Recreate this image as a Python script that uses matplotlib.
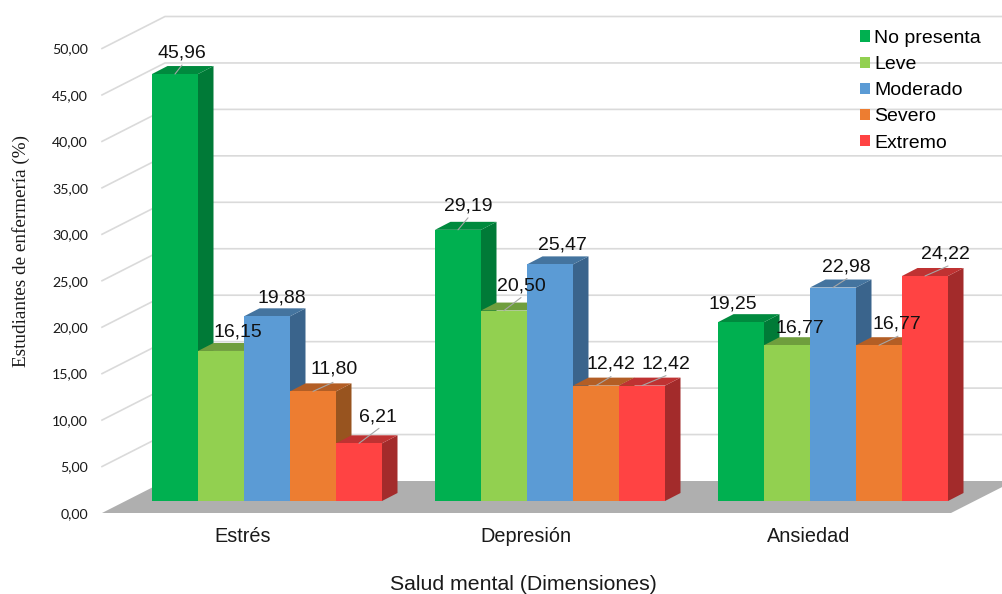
import matplotlib
matplotlib.use("Agg")
import matplotlib.pyplot as plt
from matplotlib.patches import Patch

# Data
categories = ["Estrés", "Depresión", "Ansiedad"]
series_names = ["No presenta", "Leve", "Moderado", "Severo", "Extremo"]
no_presenta = [45.96, 29.19, 19.25]
leve = [16.15, 20.50, 16.77]
moderado = [19.88, 25.47, 22.98]
severo = [11.80, 12.42, 16.77]
extremo = [6.21, 12.42, 24.22]
y_ticks = [0, 5, 10, 15, 20, 25, 30, 35, 40, 45, 50]

series = [no_presenta, leve, moderado, severo, extremo]

# front, side and top colours of each series
front_colors = ["#00B050", "#92D050", "#5B9BD5", "#ED7D31", "#FF4343"]
side_colors = ["#007A37", "#668F38", "#3A648C", "#98541F", "#A32B2B"]
top_colors = ["#008A3E", "#6F9E3D", "#44749F", "#B35E25", "#BF3232"]

# label and leader offsets in pixels from the middle of each bar's front top edge
label_offsets = [
    [(7, 22), (10, 25), (-8, 19)],
    [(17, 20), (17, 26), (13, 18)],
    [(15, 19), (12, 20), (13, 22)],
    [(21, 23), (15, 23), (18, 22)],
    [(19, 27), (24, 23), (20, 23)],
]
leader_tips = [
    [(7, 9), (10, 12), None],
    [None, (17, 13), None],
    [None, None, (14, 9)],
    [(20, 9), (15, 9), (19, 9)],
    [(20, 15), (24, 10), (23, 10)],
]

W, H = 1002, 594
PX_X = 283.0  # pixels between groups
PX_Y = 9.29   # pixels per percent
X0 = 267.0    # pixel of first group centre
Y0 = 501.0    # pixel of bar base

bar_w = 46 / PX_X
bar_dx = 15.5 / PX_X
bar_dy = 8 / PX_Y
wall_dx = 63 / PX_X
wall_dy = 32 / PX_Y
floor_y = -12 / PX_Y
floor_left = (102 - X0) / PX_X
floor_right = (951 - X0) / PX_X

fig = plt.figure(figsize=(W / 100, H / 100), dpi=100)
ax = fig.add_axes([0, 0, 1, 1])
ax.set_xlim(-X0 / PX_X, (W - X0) / PX_X)
ax.set_ylim((Y0 - H) / PX_Y, Y0 / PX_Y)
ax.axis("off")

# floor and walls
ax.fill([floor_left, floor_right, floor_right + wall_dx, floor_left + wall_dx],
        [floor_y, floor_y, floor_y + wall_dy, floor_y + wall_dy],
        color="#AFAFAF", lw=0, zorder=1)
for t in y_ticks[1:]:
    y = t * 1.0 + floor_y
    ax.plot([floor_left, floor_left + wall_dx, 5], [y, y + wall_dy, y + wall_dy],
            color="#DADADA", lw=1.2, zorder=0.5)
for t in y_ticks:
    ax.text(floor_left - 14 / PX_X, t + floor_y - 1 / PX_Y, f"{t},00",
            ha="right", va="center", fontsize=10.2, color="#1a1a1a", family="Lato")

# bars, left to right so each one covers the side of the previous bar
z = 2
for g in range(len(categories)):
    for s, values in enumerate(series):
        v = values[g]
        left = g + (s - 2.5) * bar_w
        right = left + bar_w
        ax.fill([right, right + bar_dx, right + bar_dx, right],
                [0, bar_dy, v + bar_dy, v], color=side_colors[s], lw=0, zorder=z)
        ax.fill([left, right, right + bar_dx, left + bar_dx],
                [v, v, v + bar_dy, v + bar_dy], color=top_colors[s], lw=0, zorder=z)
        ax.bar(left + bar_w / 2, v, bar_w, color=front_colors[s], lw=0, zorder=z + 0.5)
        z += 1

# value labels stay above every bar
for g in range(len(categories)):
    for s, values in enumerate(series):
        v = values[g]
        cx = g + (s - 2) * bar_w
        tip = leader_tips[s][g]
        if tip is not None:
            ax.annotate("", xy=(cx, v), xytext=tip, textcoords="offset pixels",
                        arrowprops=dict(arrowstyle="-", color="#A6A6A6", lw=0.8,
                                        shrinkA=0, shrinkB=0), zorder=60)
        dx, dy = label_offsets[s][g]
        ax.annotate(f"{v:.2f}".replace(".", ","), xy=(cx, v),
                    xytext=(dx, dy - 1), textcoords="offset pixels",
                    ha="center", va="center", fontsize=14, color="#111111",
                    family="Liberation Sans", zorder=61)

for g, name in enumerate(categories):
    ax.text(g - 24 / PX_X, (Y0 - 537) / PX_Y, name, ha="center", va="center",
            fontsize=14.3, color="#1a1a1a", family="Liberation Sans")

ax.text((523 - X0) / PX_X, (Y0 - 584) / PX_Y, "Salud mental (Dimensiones)", ha="center",
        va="center", fontsize=15.3, color="#1a1a1a", family="Liberation Sans")
ax.text((21 - X0) / PX_X, (Y0 - 251) / PX_Y, "Estudiantes de enfermería (%)", ha="center",
        va="center", rotation=90, fontsize=13.8, color="#1a1a1a", family="Liberation Serif")

handles = [Patch(color=c, lw=0) for c in front_colors]
ax.legend(handles, series_names, loc="upper left", bbox_to_anchor=(860 / W, 1 - 30 / H),
          frameon=False, borderpad=0, borderaxespad=0,
          handlelength=0.52, handleheight=0.52, handletextpad=0.2, labelspacing=0.47,
          prop={"family": "Liberation Sans", "size": 14}).set_zorder(70)

fig.savefig("out.png", dpi=100)
